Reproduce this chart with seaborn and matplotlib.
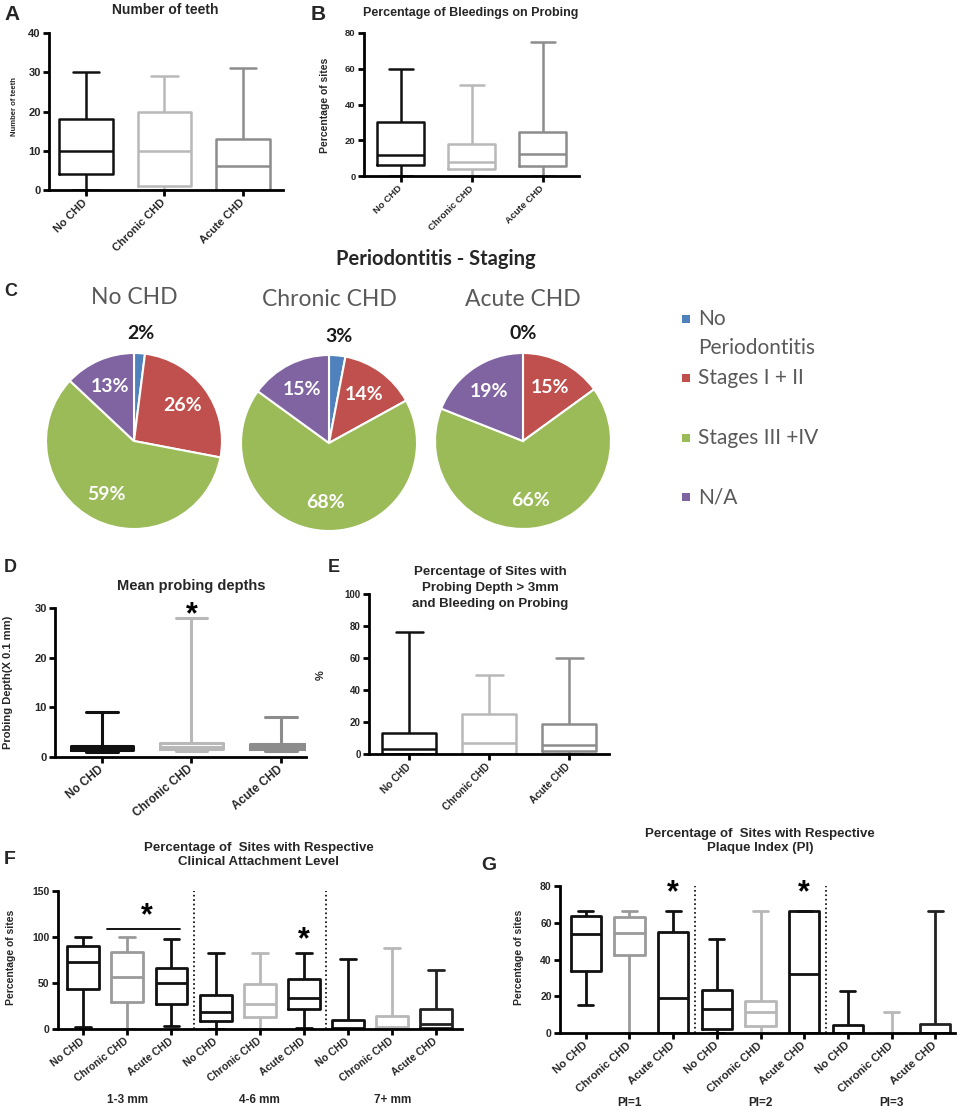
import numpy as np
import pandas as pd
import matplotlib
matplotlib.use("Agg")
import matplotlib.pyplot as plt
import seaborn as sns

# ---------------- data ----------------
groups = ['No CHD', 'Chronic CHD', 'Acute CHD']
# five-number summaries per box: [min, Q1, median, Q3, max]
teeth_no = [0, 4, 10, 18, 30]
teeth_chronic = [0, 1, 10, 20, 29]
teeth_acute = [0, 0, 6, 13, 31]

bop_no = [0, 6, 12, 30, 60]
bop_chronic = [0, 4, 8, 18, 51]
bop_acute = [0, 5.5, 12.5, 24.5, 75]

staging_labels = ['No\nPeriodontitis', 'Stages I + II', 'Stages III +IV', 'N/A']
staging_no = [2, 26, 59, 13]
staging_chronic = [3, 14, 68, 15]
staging_acute = [0, 15, 66, 19]

depth_no = [1.0, 1.4, 1.8, 2.3, 9]
depth_chronic = [1.3, 1.6, 2.0, 2.9, 28]
depth_acute = [1.3, 1.6, 2.0, 2.7, 8]

pdbop_no = [0, 0, 3, 13, 76]
pdbop_chronic = [0, 0, 7, 25, 49.5]
pdbop_acute = [0, 2, 5.5, 19, 60]

cal_levels = ['1-3 mm', '4-6 mm', '7+ mm']
cal_13_no = [2.2, 43, 73, 90, 99.6]
cal_13_chronic = [0, 29.6, 56, 84, 99.6]
cal_13_acute = [3.6, 27.4, 49.6, 66.8, 97.8]
cal_46_no = [0, 8.4, 18.6, 36.9, 82.5]
cal_46_chronic = [0, 12.8, 27.7, 49.3, 82.5]
cal_46_acute = [1, 21.9, 34, 54, 82.5]
cal_7_no = [0, 0, 1, 10.2, 76.6]
cal_7_chronic = [0, 1, 2, 13.9, 88.3]
cal_7_acute = [0, 1, 5.8, 21.2, 64.2]
cal_sig_bar_x = [0.53, 2.19]
cal_sig_bar_y = 109
cal_sig_star = [(1.45, 123), (5, 96)]

pi_levels = ['PI=1', 'PI=2', 'PI=3']
pi1_no = [15.5, 33.6, 53.8, 63.8, 66.5]
pi1_chronic = [0, 42.4, 54.5, 62.9, 66.5]
pi1_acute = [0, 0, 19.3, 55.1, 66.5]
pi2_no = [0, 2.4, 13.3, 23.6, 51.3]
pi2_chronic = [0, 3.8, 11.5, 17.3, 66.5]
pi2_acute = [0, 0, 32, 66.5, 66.5]
pi3_no = [0, 0, 0, 4.2, 22.9]
pi3_chronic = [0, 0, 0, 0, 11.5]
pi3_acute = [0, 0, 0, 5.1, 66.5]
pi_sig_star = [(2, 76), (5, 76)]

# ---------------- style ----------------
W, H = 959, 1117
sns.set_style("ticks")
plt.rcParams['font.family'] = ['Liberation Sans', 'DejaVu Sans']
CAL = ['Lato', 'DejaVu Sans']
BLACK = '#111111'
LIGHT = '#b8b8b8'
MID = '#8c8c8c'
MID2 = '#9a9a9a'
pie_colors = ['#4F81BD', '#C0504D', '#9BBB59', '#8064A2']

fig = plt.figure(figsize=(W / 100, H / 100), dpi=100)
fig.patch.set_facecolor('white')


def px_axes(l, t, r, b):
    return fig.add_axes([l / W, 1 - b / H, (r - l) / W, (b - t) / H])


def ftext(x, y, s, **kw):
    kw.setdefault('ha', 'center')
    kw.setdefault('va', 'center')
    return fig.text(x / W, 1 - y / H, s, **kw)


def box_panel(ax, keys, summaries, colors, width, lw):
    df = pd.DataFrame({'key': np.repeat(keys, [len(s) for s in summaries]),
                       'val': np.concatenate(summaries)})
    sns.boxplot(data=df, x='key', y='val', hue='key', order=keys, hue_order=keys,
                palette=dict(zip(keys, colors)), fill=False, whis=(0, 100),
                width=width, linewidth=lw, legend=False, ax=ax)


def finish(ax, xlim, ylim, yticks, labels, rot, xfs, yfs):
    ax.set_xlim(*xlim)
    ax.set_ylim(*ylim)
    ax.set_yticks(yticks)
    ax.set_yticklabels([f'{t:g}' for t in yticks], fontsize=yfs, fontweight='bold')
    ax.set_xticks(range(len(labels)))
    ax.set_xticklabels(labels, rotation=rot, ha='right', va='center',
                       rotation_mode='anchor', fontsize=xfs, fontweight='bold')
    ax.set_xlabel('')
    ax.set_ylabel('')
    sns.despine(ax=ax)
    for s in ('left', 'bottom'):
        ax.spines[s].set_linewidth(2.0)
        ax.spines[s].set_color('black')
    ax.tick_params(axis='both', width=2.0, length=4, color='black')
    ax.tick_params(axis='y', pad=2)
    ax.tick_params(axis='x', pad=4)
    ax.patch.set_alpha(0)


def star(ax, x, y, fs=20):
    ax.text(x, y, '*', ha='center', va='center', fontsize=fs, fontweight='bold',
            color='black', clip_on=False)


# ---------------- A ----------------
axA = px_axes(49, 33, 283, 190)
box_panel(axA, groups, [teeth_no, teeth_chronic, teeth_acute], [BLACK, LIGHT, MID], 0.68, 1.8)
finish(axA, (-0.47, 2.51), (0, 40), [0, 10, 20, 30, 40], groups, 45, 8, 8)
ftext(165, 10, 'Number of teeth', fontsize=10, fontweight='bold')
ftext(15, 107, 'Number of teeth', fontsize=5.5, rotation=90, fontweight='bold')
ftext(12, 15, 'A', fontsize=15, fontweight='bold')

# ---------------- B ----------------
axB = px_axes(364, 33, 579, 176)
box_panel(axB, groups, [bop_no, bop_chronic, bop_acute], [BLACK, LIGHT, MID], 0.66, 1.8)
finish(axB, (-0.52, 2.51), (0, 80), [0, 20, 40, 60, 80], groups, 45, 6.8, 6.8)
ftext(471, 13, 'Percentage of Bleedings on Probing', fontsize=9, fontweight='bold')
ftext(325, 105, 'Percentage of sites', fontsize=7.5, rotation=90, fontweight='bold')
ftext(318, 15, 'B', fontsize=15, fontweight='bold')

# ---------------- C ----------------
ftext(436, 259, 'Periodontitis - Staging', fontsize=14.5, fontweight='bold', family=CAL)
ftext(11, 291, 'C', fontsize=13, fontweight='bold')
R = 88
k = 1.3
pie_specs = [(134, 441, 'No CHD', staging_no, 297),
             (329, 443, 'Chronic CHD', staging_chronic, 300),
             (523, 441, 'Acute CHD', staging_acute, 300)]
for cx, cy, name, vals, ty in pie_specs:
    ax = px_axes(cx - R * k, cy - R * k, cx + R * k, cy + R * k)
    wedges, _ = ax.pie(vals, colors=pie_colors, startangle=90, counterclock=False,
                       wedgeprops=dict(edgecolor='white', linewidth=1.5))
    ax.set_xlim(-k, k)
    ax.set_ylim(-k, k)
    ax.set_aspect('equal')
    ax.axis('off')
    for w, v in zip(wedges, vals):
        a = np.deg2rad(0.5 * (w.theta1 + w.theta2))
        if v < 5:
            r, c = 1.22, '#1a1a1a'
        else:
            r, c = 0.68, 'white'
        ax.text(r * np.cos(a), r * np.sin(a), f'{v}%', ha='center', va='center',
                color=c, fontsize=14, fontweight='bold', family=CAL, clip_on=False)
    ftext(cx, ty, name, fontsize=16.5, color='#595959', family=CAL)

leg_y = [319, 378, 438, 497]
lax = px_axes(676, 300, 696, 515)
lax.set_xlim(0, 1)
lax.set_ylim(515, 300)
lax.scatter([0.5] * 4, leg_y, marker='s', s=40, c=pie_colors, linewidths=0)
lax.axis('off')
for yy, lab in zip(leg_y, staging_labels):
    for i, line in enumerate(lab.split('\n')):
        ftext(698, yy + 29 * i, line, ha='left', fontsize=15, color='#595959', family=CAL)

# ---------------- D ----------------
axD = px_axes(55, 608, 306, 757)
box_panel(axD, groups, [depth_no, depth_chronic, depth_acute], [BLACK, LIGHT, MID], 0.7, 2.2)
finish(axD, (-0.525, 2.28), (0, 30), [0, 10, 20, 30], groups, 40, 8.5, 8)
star(axD, 1, depth_chronic[-1] + 0.6, fs=22)
ftext(191, 586, 'Mean probing depths', fontsize=10.5, fontweight='bold')
ftext(8, 682, 'Probing Depth(X 0.1 mm)', fontsize=8, rotation=90, fontweight='bold')
ftext(10, 568, 'D', fontsize=13, fontweight='bold')

# ---------------- E ----------------
axE = px_axes(369, 594, 609, 754)
box_panel(axE, groups, [pdbop_no, pdbop_chronic, pdbop_acute], [BLACK, LIGHT, MID], 0.675, 1.8)
finish(axE, (-0.5, 2.5), (0, 100), [0, 20, 40, 60, 80, 100], groups, 45, 7.2, 7)
ftext(490, 588, 'Percentage of Sites with\nProbing Depth > 3mm\nand Bleeding on Probing',
      fontsize=9.5, fontweight='bold', linespacing=1.4)
ftext(321, 675, '%', fontsize=8, rotation=90, fontweight='bold')
ftext(334, 568, 'E', fontsize=13, fontweight='bold')

# ---------------- F ----------------
axF = px_axes(58, 891, 462, 1029)
f_keys = [f'{lv}|{g}' for lv in cal_levels for g in groups]
f_vals = [cal_13_no, cal_13_chronic, cal_13_acute,
          cal_46_no, cal_46_chronic, cal_46_acute,
          cal_7_no, cal_7_chronic, cal_7_acute]
f_cols = [BLACK, MID2, BLACK, BLACK, LIGHT, BLACK, BLACK, LIGHT, '#222222']
box_panel(axF, f_keys, f_vals, f_cols, 0.72, 2.0)
finish(axF, (-0.57, 8.58), (0, 150), [0, 50, 100, 150], groups * 3, 38, 7.5, 7.5)
for j in range(1, len(cal_levels)):
    axF.axvline(j * len(groups) - 0.5, ls=':', color='black', lw=1.2)
axF.plot(cal_sig_bar_x, [cal_sig_bar_y] * 2, color='black', lw=1.3)
for sx, sy in cal_sig_star:
    star(axF, sx, sy, fs=22)
for j, lv in enumerate(cal_levels):
    axF.annotate(lv, xy=(j * len(groups) + 1, 0), xycoords=('data', 'axes fraction'),
                 xytext=(0, -71 * 0.72), textcoords='offset points', ha='center',
                 va='center', fontsize=8.5, fontweight='bold')
ftext(259, 855, 'Percentage of  Sites with Respective\nClinical Attachment Level',
      fontsize=9.5, fontweight='bold', linespacing=1.25)
ftext(11, 957, 'Percentage of sites', fontsize=7.5, rotation=90, fontweight='bold')
ftext(10, 859, 'F', fontsize=14, fontweight='bold')

# ---------------- G ----------------
axG = px_axes(560, 886, 955, 1033)
g_keys = [f'{lv}|{g}' for lv in pi_levels for g in groups]
g_vals = [pi1_no, pi1_chronic, pi1_acute,
          pi2_no, pi2_chronic, pi2_acute,
          pi3_no, pi3_chronic, pi3_acute]
g_cols = [BLACK, MID2, BLACK, BLACK, LIGHT, BLACK, BLACK, LIGHT, '#222222']
box_panel(axG, g_keys, g_vals, g_cols, 0.69, 2.0)
finish(axG, (-0.59, 8.45), (0, 80), [0, 20, 40, 60, 80], groups * 3, 42, 8, 7.5)
for j in range(1, len(pi_levels)):
    axG.axvline(j * len(groups) - 0.5, ls=':', color='black', lw=1.2)
for sx, sy in pi_sig_star:
    star(axG, sx, sy, fs=22)
for j, lv in enumerate(pi_levels):
    axG.annotate(lv, xy=(j * len(groups) + 1, 0), xycoords=('data', 'axes fraction'),
                 xytext=(0, -70 * 0.72), textcoords='offset points', ha='center',
                 va='center', fontsize=8.5, fontweight='bold')
ftext(760, 841, 'Percentage of  Sites with Respective\nPlaque Index (PI)',
      fontsize=9.5, fontweight='bold', linespacing=1.25)
ftext(519, 957, 'Percentage of sites', fontsize=7.5, rotation=90, fontweight='bold')
ftext(489, 866, 'G', fontsize=14, fontweight='bold')

fig.savefig('out.png', dpi=100, facecolor='white')
